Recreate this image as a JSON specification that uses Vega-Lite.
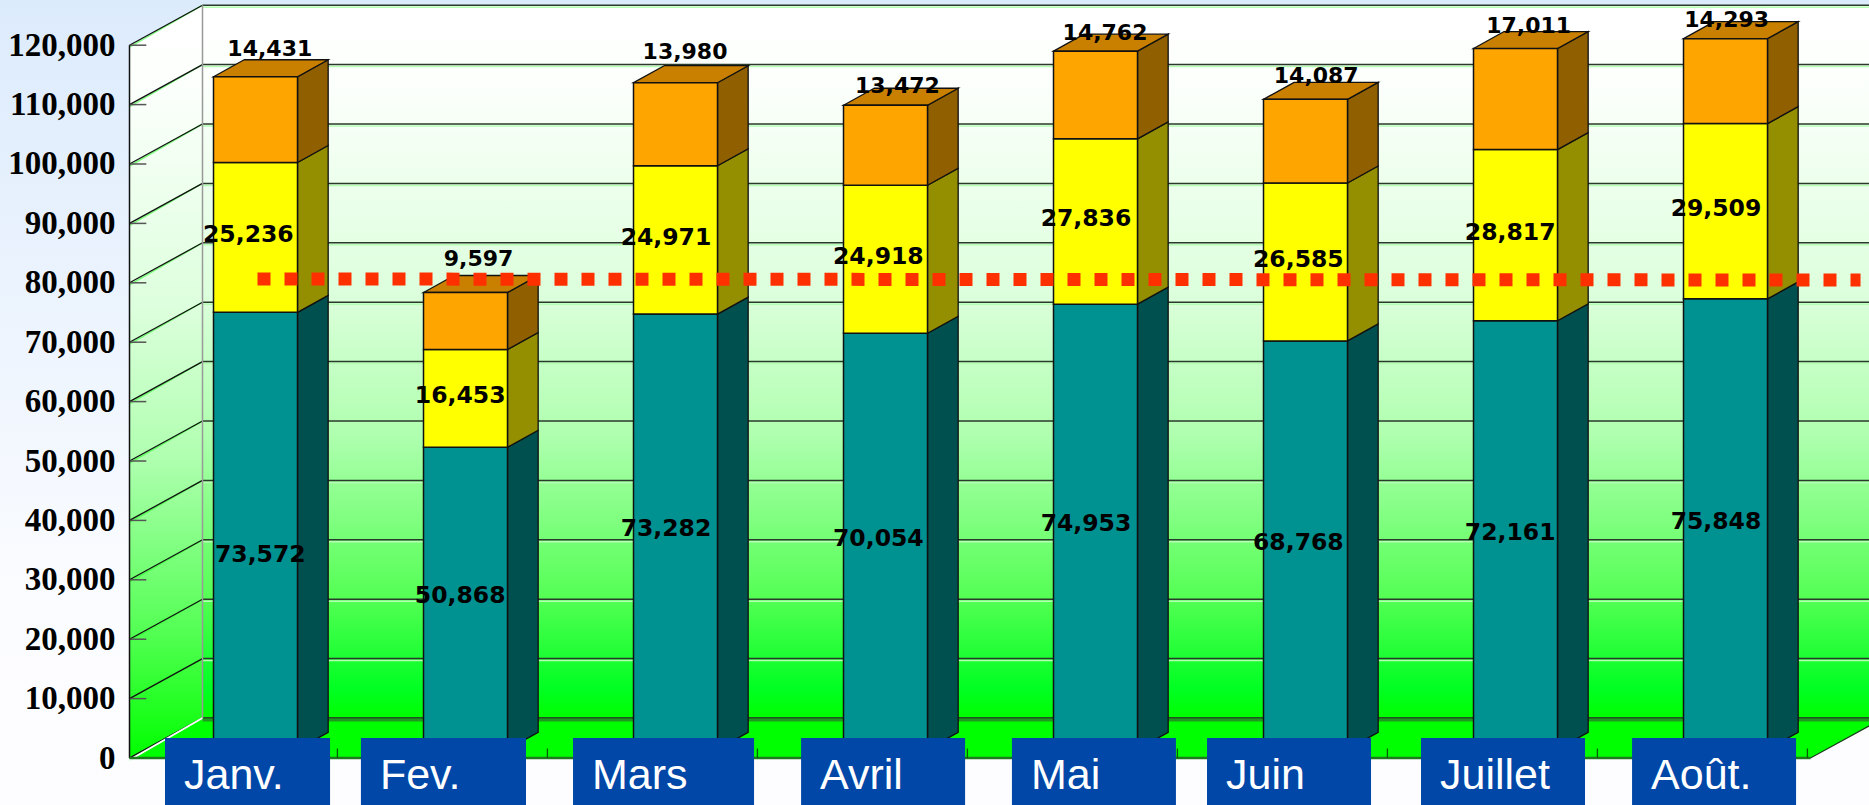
{"$schema":"https://vega.github.io/schema/vega-lite/v6.json","width":1869,"height":805,"padding":0,"autosize":{"type":"none"},"config":{"view":{"stroke":null}},
"resolve":{"scale":{"color":"independent"},"axis":{"y":"independent"}},
"data":{"values":[
{"month":"Janv.","i":0,"series":"Série 1","order":1,"value":73572},{"month":"Janv.","i":0,"series":"Série 2","order":2,"value":25236},{"month":"Janv.","i":0,"series":"Série 3","order":3,"value":14431},
{"month":"Fev.","i":1,"series":"Série 1","order":1,"value":50868},{"month":"Fev.","i":1,"series":"Série 2","order":2,"value":16453},{"month":"Fev.","i":1,"series":"Série 3","order":3,"value":9597},
{"month":"Mars","i":2,"series":"Série 1","order":1,"value":73282},{"month":"Mars","i":2,"series":"Série 2","order":2,"value":24971},{"month":"Mars","i":2,"series":"Série 3","order":3,"value":13980},
{"month":"Avril","i":3,"series":"Série 1","order":1,"value":70054},{"month":"Avril","i":3,"series":"Série 2","order":2,"value":24918},{"month":"Avril","i":3,"series":"Série 3","order":3,"value":13472},
{"month":"Mai","i":4,"series":"Série 1","order":1,"value":74953},{"month":"Mai","i":4,"series":"Série 2","order":2,"value":27836},{"month":"Mai","i":4,"series":"Série 3","order":3,"value":14762},
{"month":"Juin","i":5,"series":"Série 1","order":1,"value":68768},{"month":"Juin","i":5,"series":"Série 2","order":2,"value":26585},{"month":"Juin","i":5,"series":"Série 3","order":3,"value":14087},
{"month":"Juillet","i":6,"series":"Série 1","order":1,"value":72161},{"month":"Juillet","i":6,"series":"Série 2","order":2,"value":28817},{"month":"Juillet","i":6,"series":"Série 3","order":3,"value":17011},
{"month":"Août.","i":7,"series":"Série 1","order":1,"value":75848},{"month":"Août.","i":7,"series":"Série 2","order":2,"value":29509},{"month":"Août.","i":7,"series":"Série 3","order":3,"value":14293}
]},
"datasets":{
"grid":[{"v":0},{"v":10000},{"v":20000},{"v":30000},{"v":40000},{"v":50000},{"v":60000},{"v":70000},{"v":80000},{"v":90000},{"v":100000},{"v":110000},{"v":120000}],
"frame":[{"k":0},{"k":1}],
"target":[{"t":0.0095,"v":80640},{"t":7.643,"v":80470}]
},
"transform":[
{"stack":"value","groupby":["month"],"sort":[{"field":"order","order":"ascending"}],"as":["v0","v1"]},
{"calculate":"datum.v0+1450","as":"yb"},{"calculate":"datum.v1+1450","as":"yt"},
{"calculate":"datum.i-0.2","as":"xl"},{"calculate":"datum.i+0.2","as":"xr"},
{"calculate":"datum.month+datum.series","as":"id"}
],
"layer":[
{"data":{"name":"frame"},"transform":[{"filter":"datum.k==0"}],"mark":{"type":"rect","fill":{"gradient":"linear","x1":0,"y1":0,"x2":0,"y2":1,"stops":[{"offset":0,"color":"#DCEBFC"},{"offset":0.75,"color":"#FBFCFF"},{"offset":1,"color":"#FDFDFF"}]}},
"encoding":{"x":{"datum":-1.2167,"type":"quantitative","scale":{"domain":[-1.2167,7.6833],"nice":false,"zero":false},"axis":null},"x2":{"datum":7.6833},
"y":{"datum":-7912,"type":"quantitative","scale":{"domain":[-7912,127609],"nice":false,"zero":false},"axis":null},"y2":{"datum":127609}}},
{"data":{"name":"frame"},"transform":[{"filter":"datum.k==0"}],"mark":{"type":"rect","fill":{"gradient":"linear","x1":0,"y1":0,"x2":0,"y2":1,"stops":[{"offset":0,"color":"#FFFFFF"},{"offset":0.12,"color":"#FBFFFB"},{"offset":0.4,"color":"#DDFFDD"},{"offset":0.6,"color":"#B0FFB0"},{"offset":0.83,"color":"#55FF55"},{"offset":0.96,"color":"#00FF22"},{"offset":1,"color":"#00FF00"}]}},
"encoding":{"x":{"datum":-0.2524,"type":"quantitative","scale":{"domain":[-1.2167,7.6833],"nice":false,"zero":false},"axis":null},"x2":{"datum":7.6833},"y":{"datum":6734,"type":"quantitative","scale":{"domain":[-7912,127609],"nice":false,"zero":false},"axis":null},"y2":{"datum":126734}}},
{"data":{"name":"frame"},"transform":[{"calculate":"-0.6+datum.k*0.3476","as":"px"},{"calculate":"datum.k*6734","as":"p0"},{"calculate":"120000+datum.k*6734","as":"p1"}],"mark":{"type":"area","orient":"vertical","fill":{"gradient":"linear","x1":0,"y1":0,"x2":0,"y2":1,"stops":[{"offset":0,"color":"#FFFFFF"},{"offset":0.12,"color":"#FBFFFB"},{"offset":0.4,"color":"#DDFFDD"},{"offset":0.6,"color":"#B0FFB0"},{"offset":0.83,"color":"#55FF55"},{"offset":1,"color":"#00FF00"}]}},
"encoding":{"x":{"field":"px","type":"quantitative","stack":null,"scale":{"domain":[-1.2167,7.6833],"nice":false,"zero":false},"axis":null},"y":{"field":"p0","type":"quantitative","stack":null,"scale":{"domain":[-7912,127609],"nice":false,"zero":false},"axis":null},"y2":{"field":"p1"}}},
{"data":{"name":"frame"},"transform":[{"calculate":"-0.6+datum.k*0.3476","as":"a"},{"calculate":"7.405+datum.k*0.3476","as":"b"},{"calculate":"datum.k*6734","as":"p"}],"mark":{"type":"area","orient":"horizontal","fill":"#00FF00","stroke":"#1a3a1a","strokeWidth":1.2},
"encoding":{"x":{"field":"a","type":"quantitative","stack":null,"scale":{"domain":[-1.2167,7.6833],"nice":false,"zero":false},"axis":null},"x2":{"field":"b"},"y":{"field":"p","type":"quantitative","stack":null,"scale":{"domain":[-7912,127609],"nice":false,"zero":false},"axis":null}}},
{"data":{"name":"grid"},"transform":[{"calculate":"datum.v+6734","as":"w"}],"mark":{"type":"rule","stroke":"#33FF33","strokeWidth":1.5,"yOffset":2,"opacity":0.6},
"encoding":{"x":{"datum":-0.6,"type":"quantitative","scale":{"domain":[-1.2167,7.6833],"nice":false,"zero":false},"axis":null},"x2":{"datum":-0.2524},"y":{"field":"v","type":"quantitative","scale":{"domain":[-7912,127609],"nice":false,"zero":false},"axis":null},"y2":{"field":"w"}}},
{"data":{"name":"grid"},"transform":[{"calculate":"datum.v+6734","as":"w"}],"mark":{"type":"rule","stroke":"#111","strokeWidth":1.3},
"encoding":{"x":{"datum":-0.6,"type":"quantitative","scale":{"domain":[-1.2167,7.6833],"nice":false,"zero":false},"axis":null},"x2":{"datum":-0.2524},"y":{"field":"v","type":"quantitative","scale":{"domain":[-7912,127609],"nice":false,"zero":false},"axis":null},"y2":{"field":"w"}}},
{"data":{"name":"grid"},"transform":[{"calculate":"datum.v+6734","as":"w"}],"mark":{"type":"rule","stroke":"#B4FFB4","strokeWidth":1.5,"yOffset":2},
"encoding":{"x":{"datum":-0.2524,"type":"quantitative","scale":{"domain":[-1.2167,7.6833],"nice":false,"zero":false},"axis":null},"x2":{"datum":7.6833},"y":{"field":"w","type":"quantitative","scale":{"domain":[-7912,127609],"nice":false,"zero":false},"axis":null}}},
{"data":{"name":"grid"},"transform":[{"calculate":"datum.v+6734","as":"w"}],"mark":{"type":"rule","stroke":"#2A3A2A","strokeWidth":1.5},
"encoding":{"x":{"datum":-0.2524,"type":"quantitative","scale":{"domain":[-1.2167,7.6833],"nice":false,"zero":false},"axis":null},"x2":{"datum":7.6833},"y":{"field":"w","type":"quantitative","scale":{"domain":[-7912,127609],"nice":false,"zero":false},"axis":null}}},
{"data":{"name":"grid"},"mark":{"type":"rule","stroke":"#555","strokeWidth":1.5},
"encoding":{"x":{"datum":-0.6,"type":"quantitative","scale":{"domain":[-1.2167,7.6833],"nice":false,"zero":false},"axis":null},"x2":{"datum":-0.52},"y":{"field":"v","type":"quantitative","scale":{"domain":[-7912,127609],"nice":false,"zero":false},"axis":{"values":[0,10000,20000,30000,40000,50000,60000,70000,80000,90000,100000,110000,120000],"format":",d","title":null,"offset":-129,"domain":false,"ticks":false,"grid":false,"labelPadding":14,"labelFont":"Liberation Serif","labelFontWeight":"bold","labelFontSize":33,"labelColor":"#000","labelBaseline":"middle","labelOverlap":false,"zindex":1}}}},
{"data":{"name":"frame"},"transform":[{"filter":"datum.k==0"}],"mark":{"type":"rule","stroke":"#999","strokeWidth":1.5},
"encoding":{"x":{"datum":-0.2524,"type":"quantitative","scale":{"domain":[-1.2167,7.6833],"nice":false,"zero":false},"axis":null},"y":{"datum":6734,"type":"quantitative","scale":{"domain":[-7912,127609],"nice":false,"zero":false},"axis":null},"y2":{"datum":126734}}},
{"data":{"name":"frame"},"transform":[{"filter":"datum.k==0"}],"mark":{"type":"rule","stroke":"#111","strokeWidth":1.5},
"encoding":{"x":{"datum":-0.6,"type":"quantitative","scale":{"domain":[-1.2167,7.6833],"nice":false,"zero":false},"axis":null},"y":{"datum":0,"type":"quantitative","scale":{"domain":[-7912,127609],"nice":false,"zero":false},"axis":null},"y2":{"datum":120000}}},
{"data":{"name":"frame"},"transform":[{"filter":"datum.k==0"}],"mark":{"type":"rule","stroke":"#FFFFFF","strokeWidth":2,"yOffset":2},
"encoding":{"x":{"datum":-0.6,"type":"quantitative","scale":{"domain":[-1.2167,7.6833],"nice":false,"zero":false},"axis":null},"x2":{"datum":-0.2524},"y":{"datum":0,"type":"quantitative","scale":{"domain":[-7912,127609],"nice":false,"zero":false},"axis":null},"y2":{"datum":6734}}},
{"data":{"name":"frame"},"transform":[{"filter":"datum.k==0"}],"mark":{"type":"rule","stroke":"#1F9A1F","strokeWidth":3,"yOffset":2},
"encoding":{"x":{"datum":-0.2524,"type":"quantitative","scale":{"domain":[-1.2167,7.6833],"nice":false,"zero":false},"axis":null},"x2":{"datum":7.6833},"y":{"datum":6734,"type":"quantitative","scale":{"domain":[-7912,127609],"nice":false,"zero":false},"axis":null}}},
{"data":{"name":"frame"},"transform":[{"filter":"datum.k==0"}],"mark":{"type":"rule","stroke":"#1F7A1F","strokeWidth":2.5},
"encoding":{"x":{"datum":-0.6,"type":"quantitative","scale":{"domain":[-1.2167,7.6833],"nice":false,"zero":false},"axis":null},"x2":{"datum":7.405},"y":{"datum":0,"type":"quantitative","scale":{"domain":[-7912,127609],"nice":false,"zero":false},"axis":null}}},
{"transform":[{"filter":"datum.order==1"},{"calculate":"datum.i+0.39","as":"tk"}],"mark":{"type":"rule","stroke":"#0A5A0A","strokeWidth":1.3},
"encoding":{"x":{"field":"tk","type":"quantitative","scale":{"domain":[-1.2167,7.6833],"nice":false,"zero":false},"axis":null},"y":{"datum":0,"type":"quantitative","scale":{"domain":[-7912,127609],"nice":false,"zero":false},"axis":null},"y2":{"datum":1600}}},
{"transform":[{"calculate":"datum.xr+0.146","as":"xrb"},{"fold":["xr","xrb"],"as":["k","xs"]},{"calculate":"datum.k=='xr'?datum.yb:datum.yb+2862","as":"a"},{"calculate":"datum.k=='xr'?datum.yt:datum.yt+2862","as":"b"}],
"mark":{"type":"area","orient":"vertical","stroke":"#111","strokeWidth":1.3,"opacity":1},
"encoding":{"x":{"field":"xs","type":"quantitative","stack":null,"scale":{"domain":[-1.2167,7.6833],"nice":false,"zero":false},"axis":null},"y":{"field":"a","type":"quantitative","stack":null,"scale":{"domain":[-7912,127609],"nice":false,"zero":false},"axis":null},"y2":{"field":"b"},"detail":{"field":"id"},
"color":{"field":"series","type":"nominal","scale":{"domain":["Série 1","Série 2","Série 3"],"range":["#005050","#948F00","#8F5F00"]},"legend":null}}},
{"transform":[{"filter":"datum.order==3"},{"calculate":"datum.yt+2862","as":"ytb"},{"fold":["yt","ytb"],"as":["k","ys"]},{"calculate":"datum.k=='yt'?datum.xl:datum.xl+0.146","as":"a"},{"calculate":"datum.k=='yt'?datum.xr:datum.xr+0.146","as":"b"}],
"mark":{"type":"area","orient":"horizontal","fill":"#C97F00","stroke":"#111","strokeWidth":1.3},
"encoding":{"x":{"field":"a","type":"quantitative","stack":null,"scale":{"domain":[-1.2167,7.6833],"nice":false,"zero":false},"axis":null},"x2":{"field":"b"},"y":{"field":"ys","type":"quantitative","stack":null,"scale":{"domain":[-7912,127609],"nice":false,"zero":false},"axis":null},"detail":{"field":"month"}}},
{"mark":{"type":"rect","stroke":"#111","strokeWidth":1.5},
"encoding":{"x":{"field":"xl","type":"quantitative","scale":{"domain":[-1.2167,7.6833],"nice":false,"zero":false},"axis":null},"x2":{"field":"xr"},"y":{"field":"yb","type":"quantitative","scale":{"domain":[-7912,127609],"nice":false,"zero":false},"axis":null},"y2":{"field":"yt"},
"color":{"field":"series","type":"nominal","scale":{"domain":["Série 1","Série 2","Série 3"],"range":["#009191","#FFFF00","#FFA500"]},"legend":null}}},
{"data":{"name":"target"},"mark":{"type":"line","stroke":"#FF3000","strokeWidth":13,"strokeDash":[13,14],"strokeCap":"butt"},
"encoding":{"x":{"field":"t","type":"quantitative","scale":{"domain":[-1.2167,7.6833],"nice":false,"zero":false},"axis":null},"y":{"field":"v","type":"quantitative","scale":{"domain":[-7912,127609],"nice":false,"zero":false},"axis":null}}},
{"transform":[{"filter":"datum.order<3"},{"calculate":"datum.i+((datum.i==0&&datum.order==1)?4:[-6,-4.5,-8,-6,-8,-6,-4.5,-8][datum.i])/176.3","as":"lx"},{"calculate":"(datum.yb+datum.yt)/2+400-((datum.i==0&&datum.order==1)?4400:0)","as":"ly"}],
"mark":{"type":"text","font":"DejaVu Sans","fontWeight":"bold","fontSize":23.5,"color":"#000","align":"center","baseline":"middle"},
"encoding":{"x":{"field":"lx","type":"quantitative","scale":{"domain":[-1.2167,7.6833],"nice":false,"zero":false},"axis":null},"y":{"field":"ly","type":"quantitative","scale":{"domain":[-7912,127609],"nice":false,"zero":false},"axis":null},"text":{"field":"value","type":"quantitative","format":",d"}}},
{"transform":[{"filter":"datum.order==3"},{"calculate":"datum.i+[12,11,8,10,8,9,11,1][datum.i]/176.3","as":"lx"},{"calculate":"datum.yt+[28,33,31,19,18,23,23,19][datum.i]*168.35","as":"ly"}],
"mark":{"type":"text","font":"DejaVu Sans","fontWeight":"bold","fontSize":22,"color":"#000","align":"center","baseline":"middle"},
"encoding":{"x":{"field":"lx","type":"quantitative","scale":{"domain":[-1.2167,7.6833],"nice":false,"zero":false},"axis":null},"y":{"field":"ly","type":"quantitative","scale":{"domain":[-7912,127609],"nice":false,"zero":false},"axis":null},"text":{"field":"value","type":"quantitative","format":",d"}}},
{"transform":[{"filter":"datum.order==1"},{"calculate":"[-0.431,0.502,1.512,2.598,3.602,4.531,5.55,6.555][datum.i]","as":"b0"},{"calculate":"[0.355,1.288,2.374,3.379,4.383,5.312,6.331,7.336][datum.i]","as":"b1"}],
"mark":{"type":"rect","fill":"#0047A8"},
"encoding":{"x":{"field":"b0","type":"quantitative","scale":{"domain":[-1.2167,7.6833],"nice":false,"zero":false},"axis":null},"x2":{"field":"b1"},"y":{"datum":-7912,"type":"quantitative","scale":{"domain":[-7912,127609],"nice":false,"zero":false},"axis":null},"y2":{"datum":3367}}},
{"transform":[{"filter":"datum.order==1"},{"calculate":"[-0.431,0.502,1.512,2.598,3.602,4.531,5.55,6.555][datum.i]","as":"b0"}],
"mark":{"type":"text","font":"Liberation Sans","fontSize":43,"color":"#FFFFFF","align":"left","baseline":"alphabetic","dx":19},
"encoding":{"x":{"field":"b0","type":"quantitative","scale":{"domain":[-1.2167,7.6833],"nice":false,"zero":false},"axis":null},"y":{"datum":-5219,"type":"quantitative","scale":{"domain":[-7912,127609],"nice":false,"zero":false},"axis":null},"text":{"field":"month","type":"nominal"}}}
]}
